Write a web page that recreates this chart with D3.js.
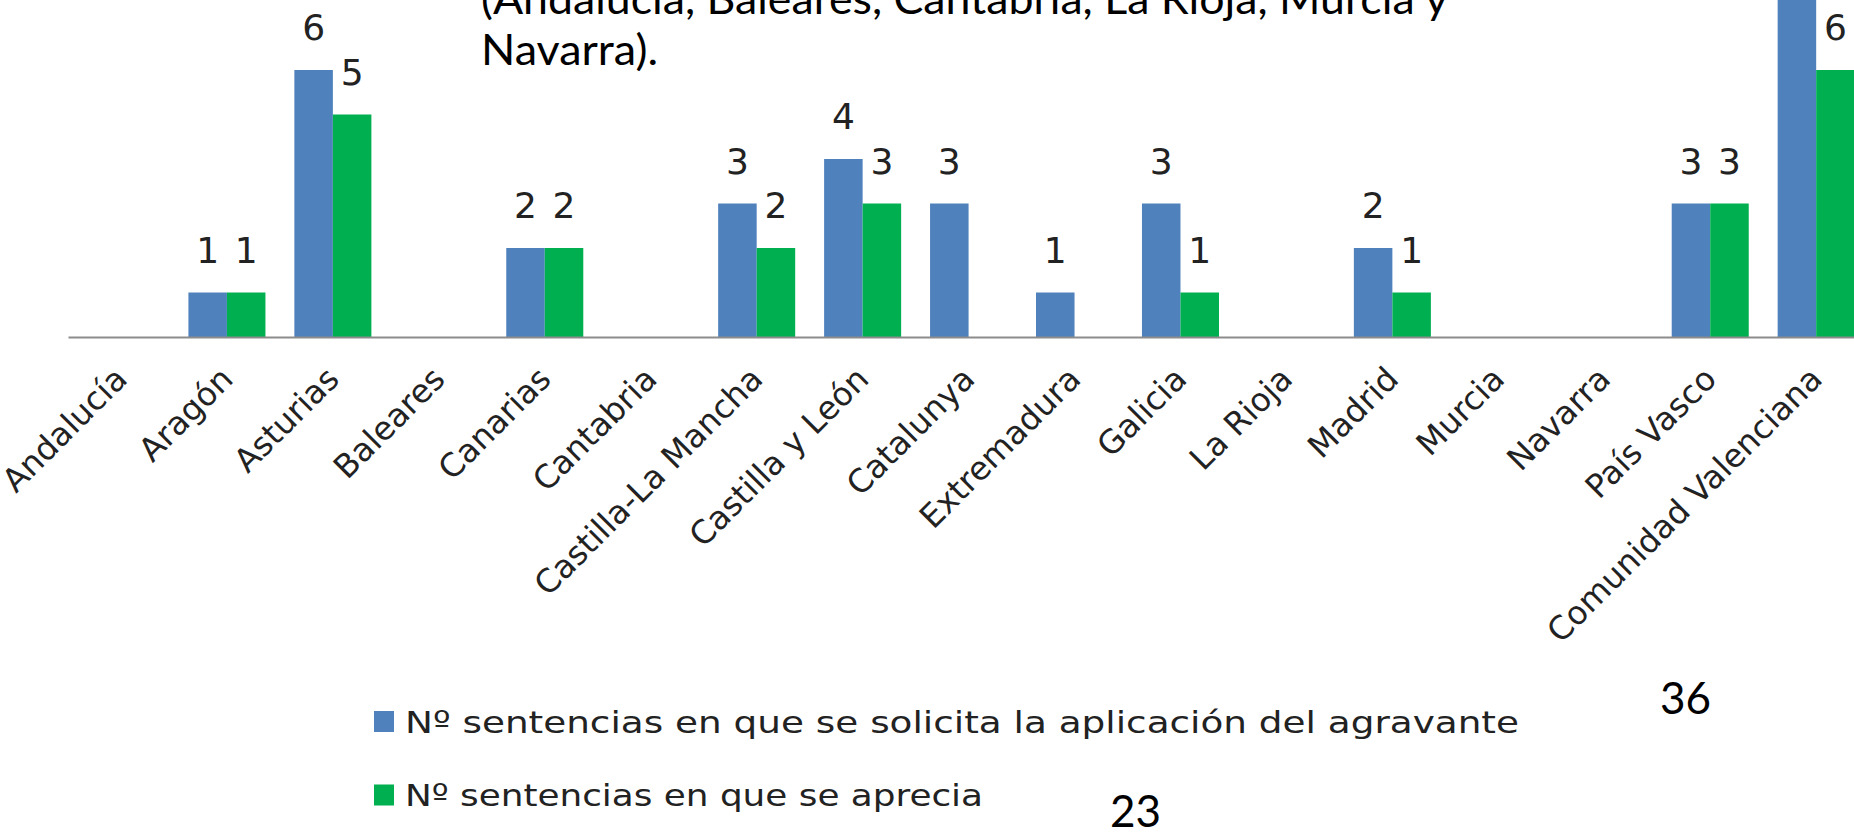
<!DOCTYPE html>
<html>
<head>
<meta charset="utf-8">
<script src="https://cdnjs.cloudflare.com/ajax/libs/d3/7.8.5/d3.min.js"></script>
<style>
  body { margin: 0; background: #fff; overflow: hidden; }
  #plot-container svg { display: block; }
</style>
</head>
<body>
<div id="plot-container"></div>
<script>
// chart data
var regions = ['Andalucía', 'Aragón', 'Asturias', 'Baleares', 'Canarias', 'Cantabria',
  'Castilla-La Mancha', 'Castilla y León', 'Catalunya', 'Extremadura', 'Galicia',
  'La Rioja', 'Madrid', 'Murcia', 'Navarra', 'País Vasco', 'Comunidad Valenciana'];
var solicitadas = [0, 1, 6, 0, 2, 0, 3, 4, 3, 1, 3, 0, 2, 0, 0, 3, 8];
var apreciadas  = [0, 1, 5, 0, 2, 0, 2, 3, 0, 0, 1, 0, 1, 0, 0, 3, 6];
var seriesNames = ['Nº sentencias en que se solicita la aplicación del agravante',
  'Nº sentencias en que se aprecia'];
var titleLines = ['(Andalucía, Baleares, Cantabria, La Rioja, Murcia y', 'Navarra).'];
var totals = ['36', '23'];

// set plot parameters
var width = 1854, height = 837;
var colors = ['#4f81bd', '#00b050'];
var baseline = 337;
var unit = 44.5;
var step = 105.95;
var left = 68;

var series = [solicitadas, apreciadas];

var svg = d3.select('#plot-container')
            .append('svg')
            .attr('width', width)
            .attr('height', height);

// scales
var x = d3.scaleBand()
          .domain(regions)
          .range([left, left + regions.length * step])
          .paddingInner(0.273)
          .paddingOuter(0.1365);

var xSub = d3.scaleBand()
             .domain([0, 1])
             .range([0, x.bandwidth()]);

var yScale = d3.scaleLinear()
               .domain([0, 8])
               .range([baseline, baseline - 8 * unit]);

// bars
series.forEach(function(values, s) {
  svg.append('g')
     .selectAll('rect')
     .data(values)
     .enter()
     .append('rect')
     .attr('x', function(d, i) { return x(regions[i]) + xSub(s); })
     .attr('width', xSub.bandwidth())
     .attr('y', function(d) { return yScale(d); })
     .attr('height', function(d) { return baseline - yScale(d); })
     .attr('fill', colors[s]);
});

// value labels
series.forEach(function(values, s) {
  svg.append('g')
     .selectAll('text')
     .data(values)
     .enter()
     .append('text')
     .attr('x', function(d, i) { return x(regions[i]) + xSub(s) + xSub.bandwidth() / 2; })
     .attr('y', function(d) { return yScale(d) - 30; })
     .attr('text-anchor', 'middle')
     .style('font-family', 'DejaVu Sans')
     .style('font-size', '36px')
     .style('fill', '#222')
     .text(function(d) { return d > 0 ? d : ''; });
});

// x axis
var axis = svg.append('g')
              .attr('transform', 'translate(0,' + baseline + ')')
              .call(d3.axisBottom(x).tickSize(0).tickSizeOuter(0));

axis.select('.domain')
    .attr('stroke', '#8c8c8c')
    .attr('stroke-width', 2);

axis.selectAll('text')
    .attr('y', 0)
    .attr('dy', 0)
    .attr('text-anchor', 'end')
    .attr('transform', 'translate(8,44) rotate(-45)')
    .style('font-family', 'DejaVu Sans')
    .style('font-size', '32.5px')
    .style('fill', '#222');

// legend
var legendWidths = [1114, 578];
var legend = svg.append('g');
seriesNames.forEach(function(name, i) {
  legend.append('rect')
        .attr('x', 374)
        .attr('y', 711 + i * 73.5)
        .attr('width', 20)
        .attr('height', 21)
        .attr('fill', colors[i]);
  legend.append('text')
        .attr('x', 405)
        .attr('y', 732.5 + i * 73.5)
        .attr('textLength', legendWidths[i])
        .attr('lengthAdjust', 'spacingAndGlyphs')
        .style('font-family', 'DejaVu Sans')
        .style('font-size', '31px')
        .style('fill', '#222')
        .text(name);
});

// slide text around the chart
svg.selectAll('.title')
   .data(titleLines)
   .enter()
   .append('text')
   .attr('class', 'title')
   .attr('x', 481)
   .attr('y', function(d, i) { return 13.5 + i * 51.5; })
   .attr('textLength', function(d, i) { return i == 0 ? 967 : 177; })
   .attr('lengthAdjust', 'spacingAndGlyphs')
   .style('font-family', 'Lato')
   .style('font-size', '43px')
   .style('fill', '#000')
   .text(function(d) { return d; });

svg.append('text')
   .attr('x', 1660)
   .attr('y', 714)
   .style('font-family', 'Lato')
   .style('font-size', '44px')
   .style('fill', '#000')
   .text(totals[0]);

svg.append('text')
   .attr('x', 1110)
   .attr('y', 827)
   .style('font-family', 'Lato')
   .style('font-size', '44px')
   .style('fill', '#000')
   .text(totals[1]);
</script>
</body>
</html>
